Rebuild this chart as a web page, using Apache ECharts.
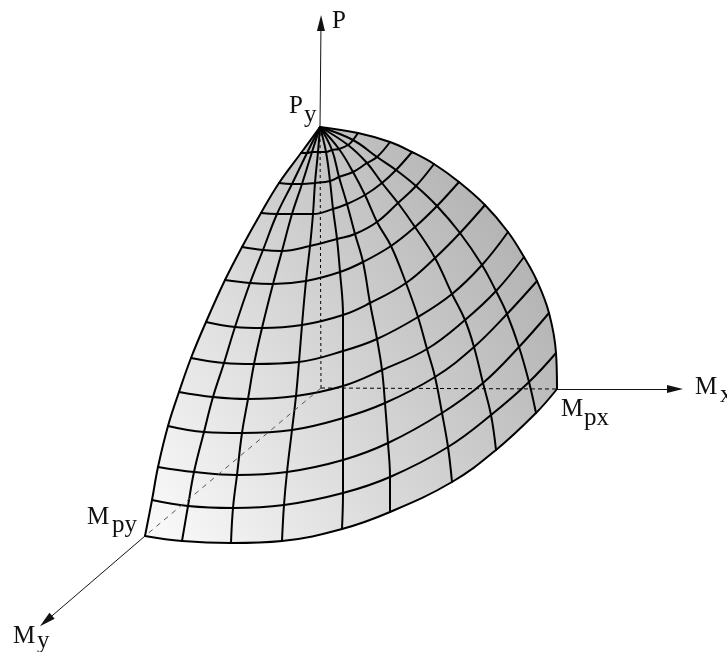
<!DOCTYPE html>
<html>
<head>
<meta charset="utf-8">
<title>P-Mx-My interaction surface</title>
<style>
  html, body { margin: 0; padding: 0; background: #fff; }
  #chart { width: 727px; height: 652px; }
</style>
<script src="https://cdn.jsdelivr.net/npm/echarts@6/dist/echarts.min.js"></script>
</head>
<body>
<div id="chart"></div>
<script>
// picture space of the sketch: x to the right, y downwards
const apex = [320, 127]
const origin = [321, 388]

// surface mesh, one list per parallel, ten meridians each
const row01 = [[301, 153], [307, 153], [312, 152], [318, 152], [326, 152], [332, 150], [339, 149], [348, 145], [353, 140], [358, 133]]
const row02 = [[279, 183], [292, 184], [302, 184], [315, 183], [330, 181], [339, 177], [353, 172], [367, 163], [377, 157], [390, 142]]
const row03 = [[261, 213], [277, 214], [292, 214], [313, 214], [333, 209], [347, 204], [365, 195], [382, 183], [396, 170], [412, 152]]
const row04 = [[242, 247], [263, 250], [282, 251], [310, 246], [337, 239], [355, 234], [377, 222], [398, 203], [416, 186], [434, 164]]
const row05 = [[225, 280], [250, 283], [273, 284], [306, 281], [340, 272], [363, 262], [391, 246], [415, 227], [437, 206], [459, 182]]
const row06 = [[206, 322], [235, 327], [262, 328], [302, 325], [343, 315], [370, 303], [406, 283], [435, 258], [460, 233], [485, 205]]
const row07 = [[191, 358], [224, 363], [254, 364], [299, 362], [343, 351], [377, 339], [418, 317], [452, 294], [482, 265], [508, 232]]
const row08 = [[179, 392], [213, 397], [248, 399], [296, 396], [343, 386], [382, 370], [427, 349], [465, 320], [496, 291], [524, 257]]
const row09 = [[168, 426], [204, 432], [242, 433], [292, 430], [343, 418], [385, 403], [435, 377], [474, 347], [507, 314], [537, 281]]
const row10 = [[158, 467], [194, 472], [237, 475], [287, 472], [343, 460], [388, 443], [442, 413], [483, 383], [519, 347], [549, 313]]
const row11 = [[152, 500], [188, 506], [233, 508], [284, 505], [343, 493], [390, 477], [448, 447], [491, 415], [529, 382], [556, 353]]
const row12 = [[145, 536], [182, 541], [231, 543], [282, 541], [342, 529], [390, 512], [452, 482], [496, 450], [536, 413], [557, 389]]
const surfaceRows = [row01, row02, row03, row04, row05, row06, row07, row08, row09, row10, row11, row12]

// axes
const axisP = [apex, [321, 23]]
const axisMx = [row12[9], [675, 389]]
const axisMy = [row12[0], [46, 621]]

// text pieces: text, x, baseline y
const labelPieces = [
  ['P', 332, 28], ['P', 289, 113], ['y', 304, 122],
  ['M', 695, 394], ['x', 720, 402],
  ['M', 561, 416], ['px', 584, 425],
  ['M', 87, 524], ['py', 112, 532],
  ['M', 13, 643], ['y', 37, 648]
]

const outline = [apex].concat(surfaceRows.map(r => r[0]))
  .concat(row12.slice(1))
  .concat(surfaceRows.slice(0, 11).reverse().map(r => r[9]))

const meshLine = function (points) {
  return {
    type: 'line',
    data: points,
    smooth: 0.4,
    symbol: 'none',
    silent: true,
    z: 3,
    lineStyle: { color: '#000', width: 2, cap: 'round' }
  }
}

const dashedLine = function (from, to, color, dash) {
  return {
    type: 'line',
    data: [from, to],
    symbol: 'none',
    silent: true,
    z: 4,
    lineStyle: { color: color, width: 1, type: dash }
  }
}

const arrowAxis = function (points) {
  return {
    type: 'line',
    data: [],
    silent: true,
    z: 4,
    markLine: {
      silent: true,
      animation: false,
      symbol: ['none', 'triangle'],
      symbolSize: [8, 16],
      label: { show: false },
      lineStyle: { color: '#111', width: 1, type: 'solid' },
      data: [[{ coord: points[0] }, { coord: points[1] }]]
    }
  }
}

let series = []
// shaded skin of the surface
series.push({
  type: 'custom',
  data: [0],
  silent: true,
  z: 2,
  renderItem: function (params, api) {
    return {
      type: 'polygon',
      shape: { points: outline.map(p => api.coord(p)) },
      style: {
        fill: {
          type: 'linear', x: 0, y: 0.9, x2: 1, y2: 0.25,
          colorStops: [
            { offset: 0, color: '#f8f8f8' },
            { offset: 1, color: '#aeaeae' }
          ]
        }
      }
    }
  }
})
surfaceRows.forEach(r => series.push(meshLine(r)))
for (let m = 0; m < 10; ++m) {
  series.push(meshLine([apex].concat(surfaceRows.map(r => r[m]))))
}
series.push(dashedLine(apex, origin, '#000', [3, 3]))
series.push(dashedLine(origin, row12[9], '#000', [4, 3]))
series.push(dashedLine(origin, row12[0], '#555', [5, 5]))
series.push(arrowAxis(axisP), arrowAxis(axisMx), arrowAxis(axisMy))
series.push({
  type: 'custom',
  data: labelPieces.map(l => [l[1], l[2], l[0]]),
  silent: true,
  z: 5,
  encode: { x: 0, y: 1 },
  renderItem: function (params, api) {
    const at = api.coord([api.value(0), api.value(1)])
    return {
      type: 'text',
      x: at[0],
      y: at[1] + 6,
      style: {
        text: labelPieces[params.dataIndex][0],
        fill: '#111',
        font: '25px "Liberation Serif"',
        align: 'left',
        verticalAlign: 'bottom'
      }
    }
  }
})

const chart = echarts.init(document.getElementById('chart'))
chart.setOption({
  animation: false,
  backgroundColor: '#fff',
  grid: { left: 0, right: 0, top: 0, bottom: 0 },
  xAxis: { type: 'value', min: 0, max: 727, show: false },
  yAxis: { type: 'value', min: 0, max: 652, inverse: true, show: false },
  series: series
})
</script>
</body>
</html>
